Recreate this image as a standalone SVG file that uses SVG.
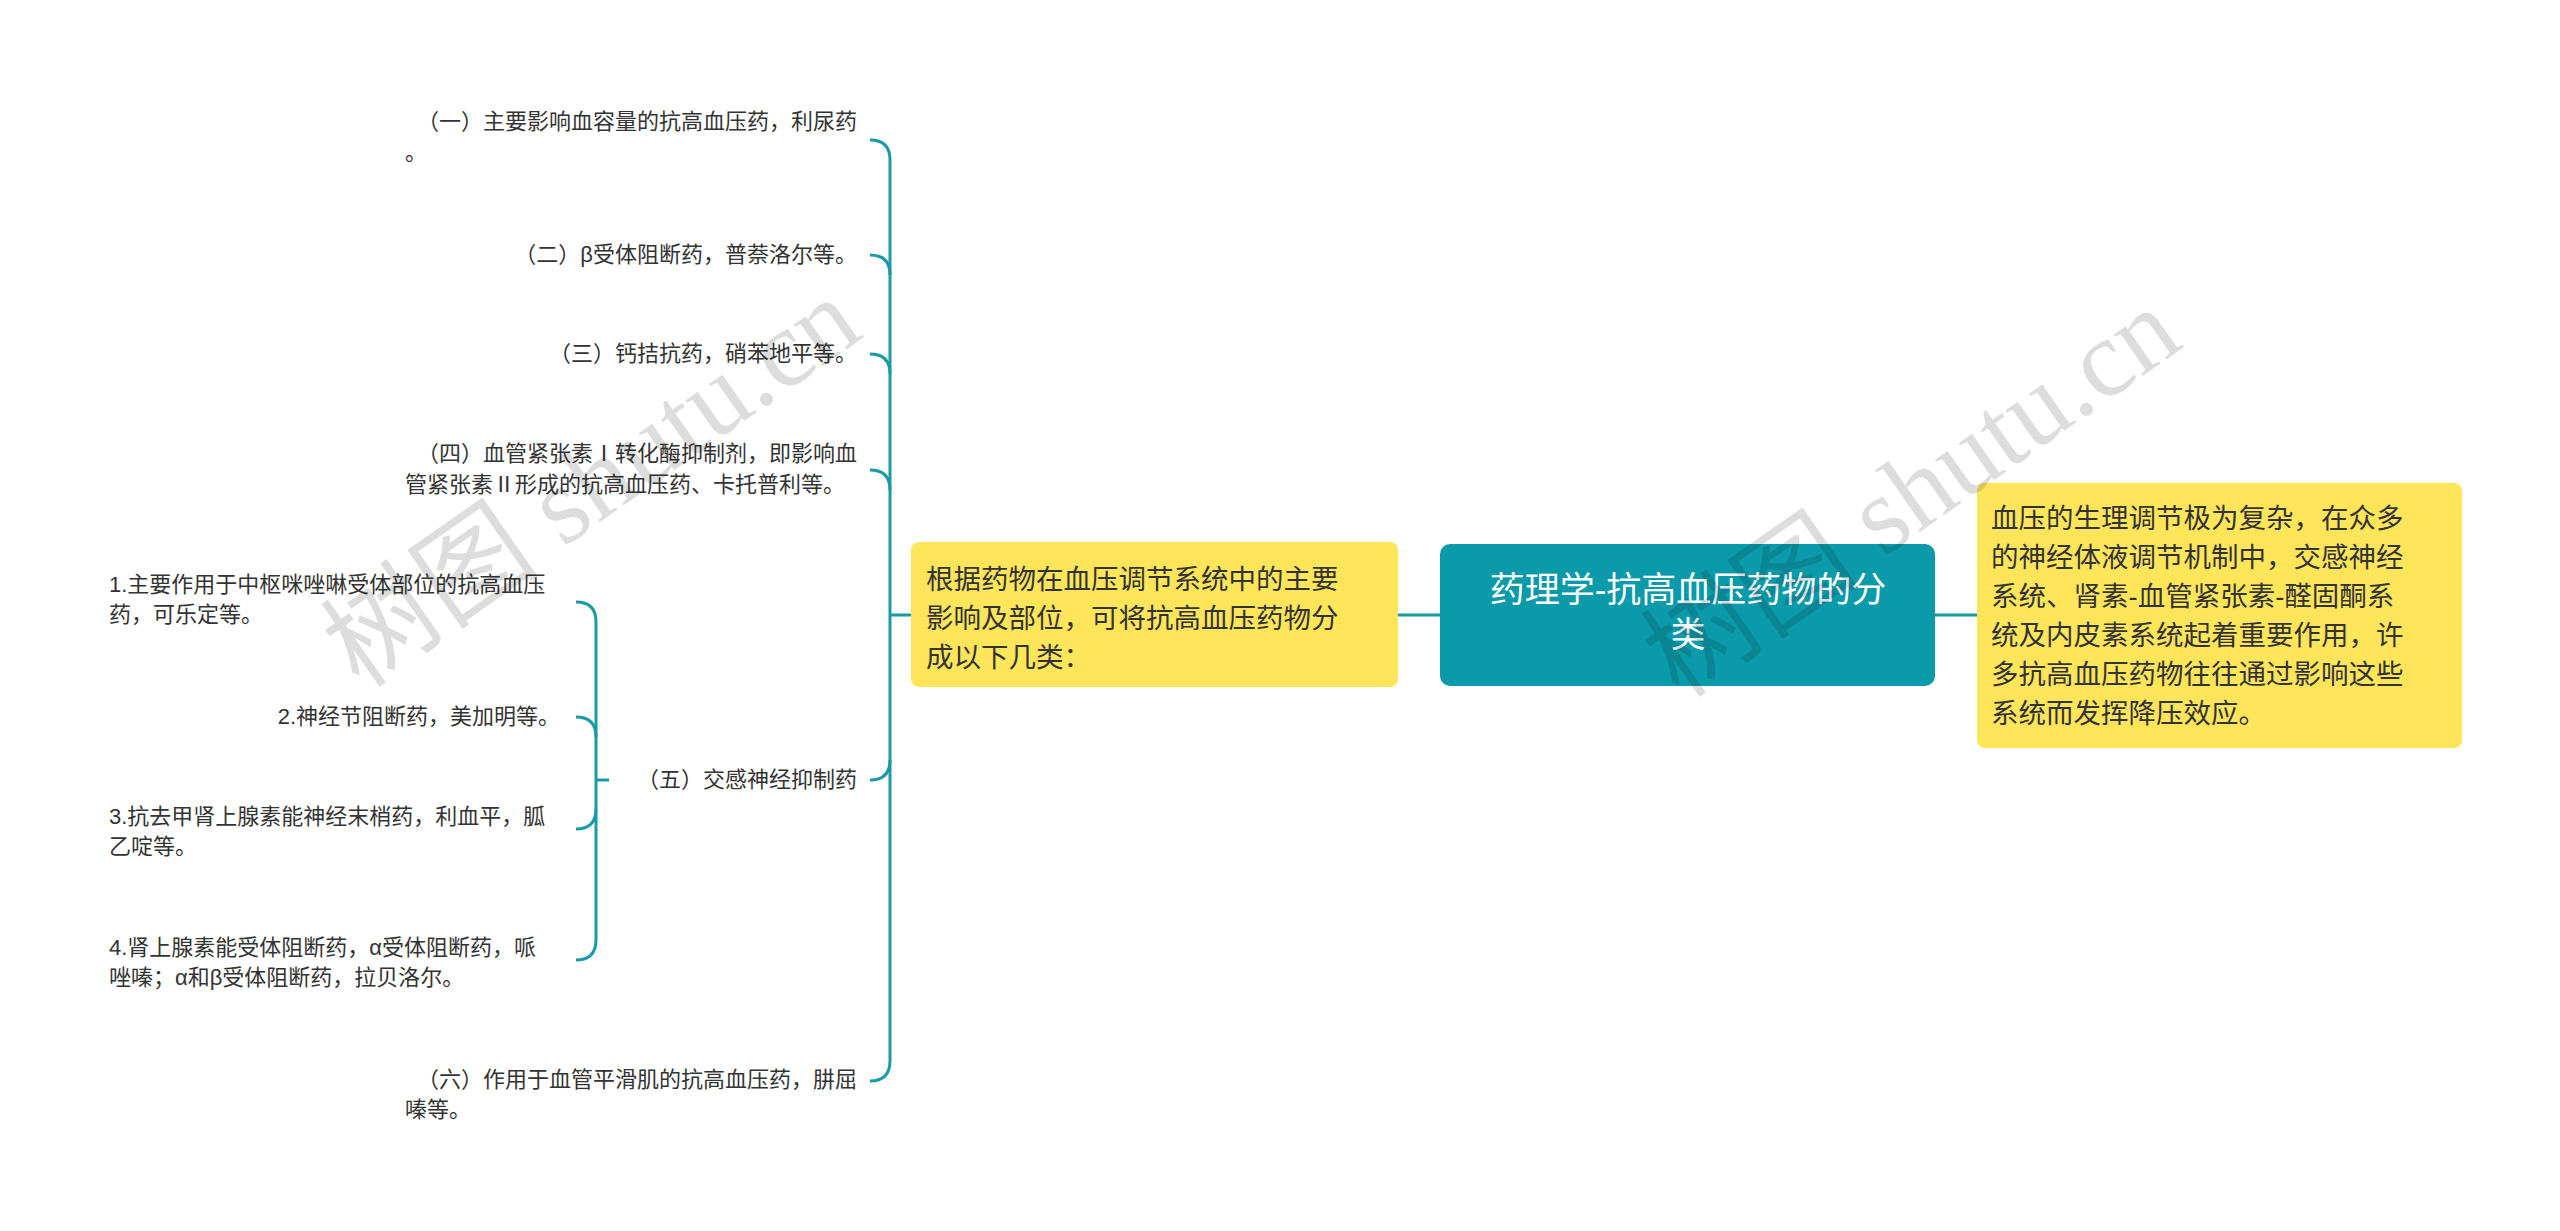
<svg xmlns="http://www.w3.org/2000/svg" width="2560" height="1231" viewBox="0 0 2560 1231">
<style>
.t{font-family:"Liberation Sans","Noto Sans CJK SC",sans-serif;font-size:22px;fill:#333}
.y{font-family:"Liberation Sans","Noto Sans CJK SC",sans-serif;font-size:27.5px;fill:#333}
.c{font-family:"Liberation Sans","Noto Sans CJK SC",sans-serif;font-size:35px;fill:#fff}
.l{fill:none;stroke:#1a9aa6;stroke-width:3}
.wm{font-family:"Liberation Serif","Noto Sans CJK SC",serif;font-size:110px;fill:#000;opacity:0.13}
</style>
<rect width="2560" height="1231" fill="#fff"/>
<g id="connectors">
<path class="l" d="M1440 615 H1398"/>
<path class="l" d="M1935 615 H1977"/>
<path class="l" d="M911 615 H890"/>
<path class="l" d="M870 140 Q890 140 890 160 V1061 Q890 1081 870 1081"/>
<path class="l" d="M870 255 Q890 255 890 275"/>
<path class="l" d="M870 354 Q890 354 890 374"/>
<path class="l" d="M870 470 Q890 470 890 490"/>
<path class="l" d="M870 780 Q890 780 890 760"/>
<path class="l" d="M576 602 Q596 602 596 622 V940 Q596 960 576 960"/>
<path class="l" d="M576 717 Q596 717 596 737"/>
<path class="l" d="M576 829 Q596 829 596 809"/>
<path class="l" d="M596 780 H609"/>
</g>
<g id="root"><rect x="1440" y="544" width="495" height="142" rx="10" fill="#0b9aaa"/>
<text class="c" x="1688" y="602" text-anchor="middle">药理学-抗高血压药物的分</text>
<text class="c" x="1688" y="647" text-anchor="middle">类</text></g>
<g id="left"><rect x="911" y="542" width="487" height="145" rx="8" fill="#ffe55a"/>
<text class="y" x="926" y="589">根据药物在血压调节系统中的主要</text>
<text class="y" x="926" y="628">影响及部位，可将抗高血压药物分</text>
<text class="y" x="926" y="667">成以下几类：</text></g>
<g id="right"><rect x="1977" y="483" width="485" height="265" rx="8" fill="#ffe55a"/>
<text class="y" x="1991" y="528">血压的生理调节极为复杂，在众多</text>
<text class="y" x="1991" y="567">的神经体液调节机制中，交感神经</text>
<text class="y" x="1991" y="606">系统、肾素-血管紧张素-醛固酮系</text>
<text class="y" x="1991" y="645">统及内皮素系统起着重要作用，许</text>
<text class="y" x="1991" y="684">多抗高血压药物往往通过影响这些</text>
<text class="y" x="1991" y="723">系统而发挥降压效应。</text></g>
<g id="n1"><text class="t" x="857" y="129" text-anchor="end">（一）主要影响血容量的抗高血压药，利尿药</text><text class="t" x="405" y="160">。</text></g>
<g id="n2"><text class="t" x="857" y="262" text-anchor="end">（二）β受体阻断药，普萘洛尔等。</text></g>
<g id="n3"><text class="t" x="857" y="361" text-anchor="end">（三）钙拮抗药，硝苯地平等。</text></g>
<g id="n4"><text class="t" x="857" y="461" text-anchor="end">（四）血管紧张素Ⅰ转化酶抑制剂，即影响血</text><text class="t" x="405" y="492">管紧张素Ⅱ形成的抗高血压药、卡托普利等。</text></g>
<g id="n5"><text class="t" x="857" y="787" text-anchor="end">（五）交感神经抑制药</text></g>
<g id="n6"><text class="t" x="857" y="1087" text-anchor="end">（六）作用于血管平滑肌的抗高血压药，肼屈</text><text class="t" x="405" y="1117">嗪等。</text></g>
<g id="s1"><text class="t" x="109" y="592">1.主要作用于中枢咪唑啉受体部位的抗高血压</text><text class="t" x="109" y="622">药，可乐定等。</text></g>
<g id="s2"><text class="t" x="560" y="724" text-anchor="end">2.神经节阻断药，美加明等。</text></g>
<g id="s3"><text class="t" x="109" y="824">3.抗去甲肾上腺素能神经末梢药，利血平，胍</text><text class="t" x="109" y="854">乙啶等。</text></g>
<g id="s4"><text class="t" x="109" y="955">4.肾上腺素能受体阻断药，α受体阻断药，哌</text><text class="t" x="109" y="985">唑嗪；α和β受体阻断药，拉贝洛尔。</text></g>
<text class="wm" transform="translate(360 690) rotate(-35)">树图 shutu.cn</text>
<text class="wm" transform="translate(1680 700) rotate(-35)">树图 shutu.cn</text>
</svg>
